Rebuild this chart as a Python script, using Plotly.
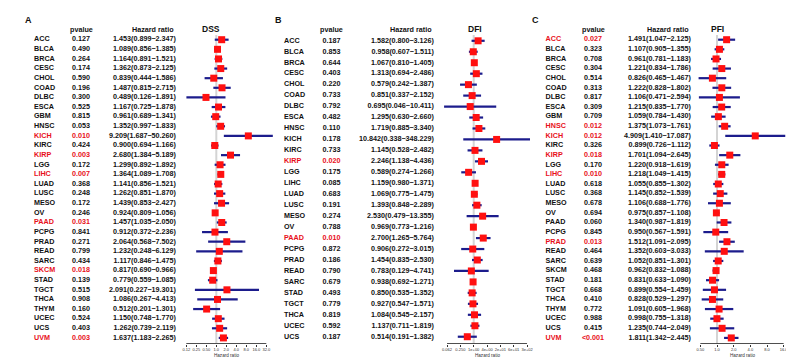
import math
import plotly.graph_objects as go

W, H = 794, 362
FONT = "Liberation Sans, Arial, Helvetica, sans-serif"
RED = "#E8101A"
BLUE = "#1C1C8C"
BLACK = "#111111"

# ---------------- DSS (panel A) ----------------
dss_cancers = ["ACC", "BLCA", "BRCA", "CESC", "CHOL", "COAD", "DLBC", "ESCA", "GBM", "HNSC",
               "KICH", "KIRC", "KIRP", "LGG", "LIHC", "LUAD", "LUSC", "MESO", "OV", "PAAD",
               "PCPG", "PRAD", "READ", "SARC", "SKCM", "STAD", "TGCT", "THCA", "THYM", "UCEC",
               "UCS", "UVM"]
dss_pvalues = ["0.127", "0.490", "0.264", "0.174", "0.590", "0.196", "0.300", "0.525", "0.815", "0.053",
               "0.010", "0.424", "0.003", "0.172", "0.007", "0.368", "0.248", "0.172", "0.246", "0.031",
               "0.841", "0.271", "0.799", "0.434", "0.018", "0.139", "0.515", "0.908", "0.160", "0.524",
               "0.403", "0.003"]
dss_hr = [1.453, 1.089, 1.164, 1.362, 0.839, 1.487, 0.489, 1.167, 0.961, 1.352,
          9.209, 0.900, 2.680, 1.299, 1.364, 1.141, 1.262, 1.439, 0.924, 1.457,
          0.912, 2.064, 1.232, 1.117, 0.817, 0.779, 2.091, 1.086, 0.512, 1.150,
          1.262, 1.637]
dss_lower = [0.899, 0.856, 0.891, 0.873, 0.444, 0.815, 0.126, 0.725, 0.689, 0.997,
             1.687, 0.694, 1.384, 0.892, 1.089, 0.856, 0.851, 0.853, 0.809, 1.035,
             0.372, 0.568, 0.248, 0.846, 0.690, 0.559, 0.227, 0.267, 0.201, 0.748,
             0.739, 1.183]
dss_upper = [2.347, 1.385, 1.521, 2.125, 1.586, 2.715, 1.891, 1.878, 1.341, 1.833,
             50.260, 1.166, 5.189, 1.892, 1.708, 1.521, 1.870, 2.427, 1.056, 2.050,
             2.236, 7.502, 6.129, 1.475, 0.966, 1.085, 19.301, 4.413, 1.301, 1.770,
             2.119, 2.265]
dss_ticks = [0.125, 0.25, 0.5, 1, 2, 4, 8, 16, 32]
dss_ticktext = ["0.12", "0.25", "0.50", "1.0", "2.0", "4.0", "8.0", "16.0", "32.0"]

# ---------------- DFI (panel B) ----------------
dfi_cancers = ["ACC", "BLCA", "BRCA", "CESC", "CHOL", "COAD", "DLBC", "ESCA", "HNSC", "KICH",
               "KIRC", "KIRP", "LGG", "LIHC", "LUAD", "LUSC", "MESO", "OV", "PAAD", "PCPG",
               "PRAD", "READ", "SARC", "STAD", "TGCT", "THCA", "UCEC", "UCS"]
dfi_pvalues = ["0.187", "0.853", "0.644", "0.403", "0.220", "0.733", "0.792", "0.482", "0.110", "0.178",
               "0.733", "0.020", "0.175", "0.085", "0.683", "0.191", "0.274", "0.788", "0.010", "0.872",
               "0.186", "0.790", "0.679", "0.493", "0.779", "0.819", "0.592", "0.187"]
dfi_hr = [1.582, 0.958, 1.067, 1.313, 0.579, 0.851, 0.695, 1.295, 1.719, 10.842,
          1.145, 2.246, 0.589, 1.159, 1.069, 1.393, 2.530, 0.969, 2.700, 0.906,
          1.454, 0.783, 0.938, 0.850, 0.927, 1.084, 1.137, 0.514]
dfi_lower = [0.800, 0.607, 0.810, 0.694, 0.242, 0.337, 0.046, 0.630, 0.885, 0.338,
             0.528, 1.138, 0.274, 0.980, 0.775, 0.848, 0.479, 0.773, 1.265, 0.272,
             0.835, 0.129, 0.692, 0.535, 0.547, 0.545, 0.711, 0.191]
dfi_upper = [3.126, 1.511, 1.405, 2.486, 1.387, 2.152, 10.411, 2.660, 3.340, 348.229,
             2.482, 4.436, 1.266, 1.371, 1.475, 2.289, 13.355, 1.216, 5.764, 3.015,
             2.530, 4.741, 1.271, 1.352, 1.571, 2.157, 1.819, 1.382]
dfi_ticks = [0.0625, 0.25, 1, 4, 16, 64, 256]
dfi_ticktext = ["0.062", "0.250", "1e+00", "4e+00", "2e+01", "6e+01", "3e+02"]

# ---------------- PFI (panel C) ----------------
pfi_cancers = ["ACC", "BLCA", "BRCA", "CESC", "CHOL", "COAD", "DLBC", "ESCA", "GBM", "HNSC",
               "KICH", "KIRC", "KIRP", "LGG", "LIHC", "LUAD", "LUSC", "MESO", "OV", "PAAD",
               "PCPG", "PRAD", "READ", "SARC", "SKCM", "STAD", "TGCT", "THCA", "THYM", "UCEC",
               "UCS", "UVM"]
pfi_pvalues = ["0.027", "0.323", "0.708", "0.304", "0.514", "0.313", "0.817", "0.309", "0.709", "0.012",
               "0.012", "0.326", "0.018", "0.170", "0.010", "0.618", "0.368", "0.678", "0.694", "0.060",
               "0.845", "0.013", "0.464", "0.639", "0.468", "0.181", "0.668", "0.410", "0.772", "0.988",
               "0.415", "<0.001"]
pfi_hr = [1.491, 1.107, 0.961, 1.221, 0.826, 1.222, 1.106, 1.215, 1.059, 1.375,
          4.909, 0.899, 1.701, 1.220, 1.218, 1.055, 1.145, 1.106, 0.975, 1.340,
          0.950, 1.512, 1.352, 1.052, 0.962, 0.831, 0.899, 0.828, 1.091, 0.998,
          1.235, 1.811]
pfi_lower = [1.047, 0.905, 0.781, 0.834, 0.465, 0.828, 0.471, 0.835, 0.784, 1.073,
             1.410, 0.726, 1.094, 0.918, 1.049, 0.855, 0.852, 0.688, 0.857, 0.987,
             0.567, 1.091, 0.603, 0.851, 0.832, 0.633, 0.554, 0.529, 0.605, 0.755,
             0.744, 1.342]
pfi_upper = [2.125, 1.355, 1.183, 1.786, 1.467, 1.802, 2.594, 1.770, 1.430, 1.761,
             17.087, 1.112, 2.645, 1.619, 1.415, 1.302, 1.539, 1.776, 1.108, 1.819,
             1.591, 2.095, 3.033, 1.301, 1.088, 1.090, 1.459, 1.297, 1.968, 1.318,
             2.049, 2.445]
pfi_ticks = [0.5, 1, 2, 4, 8, 16]
pfi_ticktext = ["0.50", "1.0", "2.0", "4.0", "8.0", "16.0"]

# ---------------- layout (pixel geometry) ----------------
HEADER_PX = 22.0
AXIS_PX = 335.5
REF_TOP_PX = 27.0

panels = [
    dict(letter="A", title="DSS", cancers=dss_cancers, p=dss_pvalues, hr=dss_hr, lo=dss_lower, hi=dss_upper,
         ticks=dss_ticks, ticktext=dss_ticktext,
         letter_x=20.5, name_x=26.0, p_x=73.0, hr_right=168.0, title_x=202.5,
         ref_px=208.3, k=10.0, dom=(172.0, 268.0), row0=31.7, step=9.62),
    dict(letter="B", title="DFI", cancers=dfi_cancers, p=dfi_pvalues, hr=dfi_hr, lo=dfi_lower, hi=dfi_upper,
         ticks=dfi_ticks, ticktext=dfi_ticktext,
         letter_x=270.0, name_x=276.0, p_x=323.5, hr_right=426.0, title_x=466.5,
         ref_px=465.7, k=6.667, dom=(430.0, 527.0), row0=32.8, step=10.96),
    dict(letter="C", title="PFI", cancers=pfi_cancers, p=pfi_pvalues, hr=pfi_hr, lo=pfi_lower, hi=pfi_upper,
         ticks=pfi_ticks, ticktext=pfi_ticktext,
         letter_x=527.5, name_x=537.5, p_x=585.0, hr_right=683.0, title_x=709.0,
         ref_px=709.0, k=16.67, dom=(684.0, 792.0), row0=31.7, step=9.62),
]


def is_sig(p):
    if p.startswith("<"):
        return True
    return float(p) < 0.05


fig = go.Figure()
layout_axes = {}
annotations = []

layout_axes["xaxis"] = dict(domain=[0, 1], range=[0, W], visible=False, fixedrange=True)

for i, pn in enumerate(panels, start=1):
    yname = "y" if i == 1 else f"y{i}"
    ykey = "yaxis" if i == 1 else f"yaxis{i}"
    xname = f"x{i + 1}"
    xkey = f"xaxis{i + 1}"
    row = lambda px, pn=pn: (px - pn["row0"]) / pn["step"]
    n = len(pn["cancers"])
    rows = list(range(n))

    yax = dict(domain=[0, 1], range=[row(H), row(0)], visible=False, fixedrange=True)
    if i > 1:
        yax["overlaying"] = "y"
    layout_axes[ykey] = yax

    l2 = math.log10(2)
    d0, d1 = pn["dom"]
    layout_axes[xkey] = dict(
        type="log", domain=[d0 / W, d1 / W],
        range=[(d0 - pn["ref_px"]) / pn["k"] * l2, (d1 - pn["ref_px"]) / pn["k"] * l2],
        anchor="free", position=1 - AXIS_PX / H,
        tickvals=pn["ticks"], ticktext=pn["ticktext"], tickangle=0,
        ticks="outside", ticklen=2, tickwidth=0.8, tickcolor="#333",
        tickfont=dict(size=4, family=FONT, color="#333"),
        showgrid=False, zeroline=False, showline=False, fixedrange=True,
    )

    # reference line at HR = 1
    fig.add_trace(go.Scatter(x=[1, 1], y=[row(REF_TOP_PX), row(AXIS_PX)], mode="lines",
                             line=dict(color="#D4D4D4", width=2), xaxis=xname, yaxis=yname,
                             hoverinfo="skip", showlegend=False))
    # axis line spanning first..last tick
    fig.add_trace(go.Scatter(x=[pn["ticks"][0], pn["ticks"][-1]], y=[row(AXIS_PX), row(AXIS_PX)],
                             mode="lines", line=dict(color="#222", width=0.8), xaxis=xname, yaxis=yname,
                             hoverinfo="skip", showlegend=False))
    # forest points with CI
    fig.add_trace(go.Scatter(
        x=pn["hr"], y=rows, mode="markers", xaxis=xname, yaxis=yname,
        marker=dict(symbol="square", size=7, color="#FF1010", line=dict(width=0)),
        error_x=dict(type="data", symmetric=False,
                     array=[h - m for h, m in zip(pn["hi"], pn["hr"])],
                     arrayminus=[m - l for m, l in zip(pn["hr"], pn["lo"])],
                     color=BLUE, thickness=2.2, width=0),
        showlegend=False, hoverinfo="skip"))

    colors = [RED if is_sig(p) else BLACK for p in pn["p"]]
    hr_text = [f"{h:.3f}({l:.3f}\u2212{u:.3f})" for h, l, u in zip(pn["hr"], pn["lo"], pn["hi"])]
    tf = dict(size=7.2, family=FONT, weight="bold")
    fig.add_trace(go.Scatter(x=[pn["name_x"]] * n, y=rows, mode="text", text=pn["cancers"],
                             textposition="middle right", textfont=dict(tf, color=colors),
                             xaxis="x", yaxis=yname, showlegend=False, hoverinfo="skip"))
    fig.add_trace(go.Scatter(x=[pn["p_x"]] * n, y=rows, mode="text", text=pn["p"],
                             textposition="middle center", textfont=dict(tf, color=colors),
                             xaxis="x", yaxis=yname, showlegend=False, hoverinfo="skip"))
    fig.add_trace(go.Scatter(x=[pn["hr_right"]] * n, y=rows, mode="text", text=hr_text,
                             textposition="middle left", textfont=dict(tf, color=BLACK),
                             xaxis="x", yaxis=yname, showlegend=False, hoverinfo="skip"))

    hy = 1 - HEADER_PX / H
    annotations += [
        dict(text=pn["letter"], x=pn["letter_x"] / W, y=1 - 12.5 / H, xref="paper", yref="paper",
             xanchor="center", yanchor="middle", showarrow=False,
             font=dict(size=9, family=FONT, color=BLACK, weight="bold")),
        dict(text="pvalue", x=pn["p_x"] / W, y=hy, xref="paper", yref="paper",
             xanchor="center", yanchor="middle", showarrow=False,
             font=dict(size=7.2, family=FONT, color=BLACK, weight="bold")),
        dict(text="Hazard ratio", x=pn["hr_right"] / W, y=hy, xref="paper", yref="paper",
             xanchor="right", yanchor="middle", showarrow=False,
             font=dict(size=7.2, family=FONT, color=BLACK, weight="bold")),
        dict(text=pn["title"], x=pn["title_x"] / W, y=1 - 21 / H, xref="paper", yref="paper",
             xanchor="center", yanchor="middle", showarrow=False,
             font=dict(size=8.5, family=FONT, color=BLACK, weight="bold")),
    ]
    ax_lo = pn["ref_px"] + pn["k"] * math.log2(pn["ticks"][0])
    ax_hi = pn["ref_px"] + pn["k"] * math.log2(pn["ticks"][-1])
    annotations.append(dict(text="Hazard ratio", x=(ax_lo + ax_hi) / 2 / W, y=1 - 347 / H,
                            xref="paper", yref="paper", xanchor="center", yanchor="middle",
                            showarrow=False, font=dict(size=4.6, family=FONT, color="#333")))

fig.update_layout(
    width=W, height=H, margin=dict(l=0, r=0, t=0, b=0),
    paper_bgcolor="white", plot_bgcolor="rgba(0,0,0,0)",
    showlegend=False, annotations=annotations, **layout_axes,
)

fig.write_html("out.html")
